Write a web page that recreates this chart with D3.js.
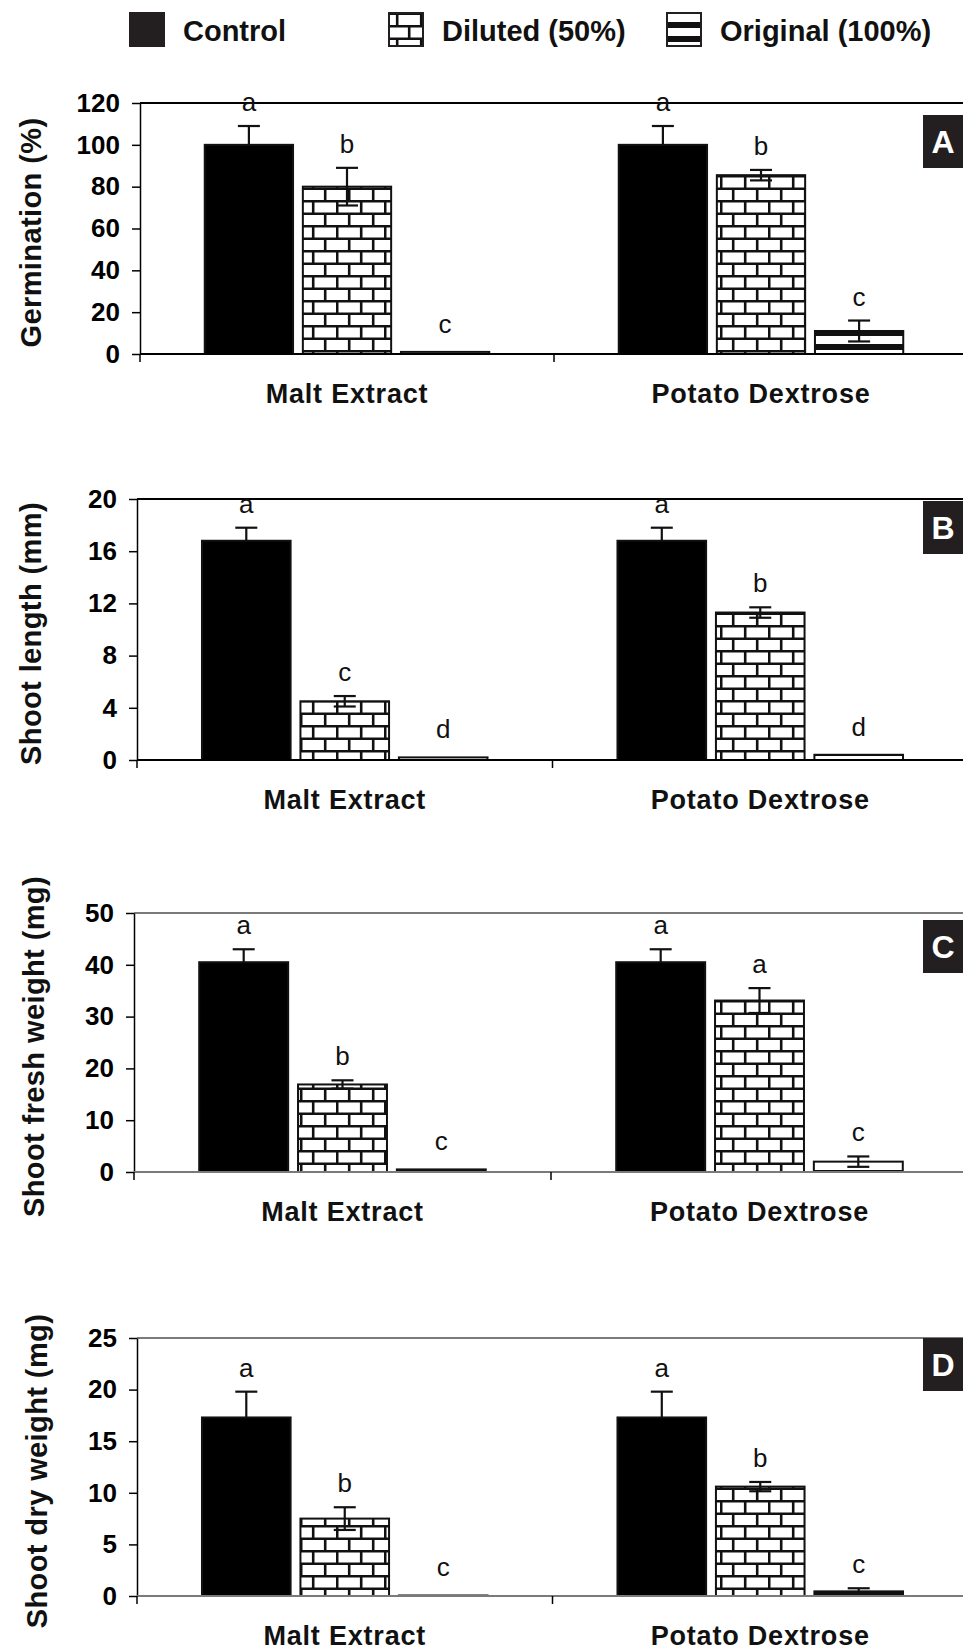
<!DOCTYPE html>
<html>
<head>
<meta charset="utf-8">
<script src="https://cdn.jsdelivr.net/npm/d3@7"></script>
<style>
  body { margin: 0; background: #fff; }
  svg { display: block; font-family: Arial, "Liberation Sans", sans-serif; }
</style>
</head>
<body>
<div id="chart"></div>
<script>
// categories
const groups = ["Malt Extract", "Potato Dextrose"];
const treatments = ["Control", "Diluted (50%)", "Original (100%)"];

// A: germination (%)  -- [group][treatment]
const germMean = [[100, 80, 1], [100, 85.5, 11]];
const germErr = [[9, 9, 0], [9, 2.5, 5]];
const germLetters = [["a", "b", "c"], ["a", "b", "c"]];
const germTicks = [0, 20, 40, 60, 80, 100, 120];

// B: shoot length (mm)
const lenMean = [[16.8, 4.5, 0.2], [16.8, 11.3, 0.4]];
const lenErr = [[1, 0.4, 0], [1, 0.4, 0]];
const lenLetters = [["a", "c", "d"], ["a", "b", "d"]];
const lenTicks = [0, 4, 8, 12, 16, 20];

// C: shoot fresh weight (mg)
const freshMean = [[40.5, 16.9, 0.5], [40.5, 33.1, 2]];
const freshErr = [[2.5, 0.8, 0], [2.5, 2.4, 1]];
const freshLetters = [["a", "b", "c"], ["a", "a", "c"]];
const freshTicks = [0, 10, 20, 30, 40, 50];

// D: shoot dry weight (mg)
const dryMean = [[17.3, 7.5, 0.05], [17.3, 10.6, 0.45]];
const dryErr = [[2.5, 1.1, 0], [2.5, 0.45, 0.3]];
const dryLetters = [["a", "b", "c"], ["a", "b", "c"]];
const dryTicks = [0, 5, 10, 15, 20, 25];

const W = 963, H = 1651, right = 968;

const panels = [
  {tag: "A", title: "Germination (%)", mean: germMean, err: germErr, letters: germLetters, ticks: germTicks,
   top: 103, bottom: 354, left: 140, frame: "#000", tagDy: 12, titleX: 41},
  {tag: "B", title: "Shoot length (mm)", mean: lenMean, err: lenErr, letters: lenLetters, ticks: lenTicks,
   top: 499, bottom: 760, left: 137, frame: "#000", tagDy: 2, titleX: 41},
  {tag: "C", title: "Shoot fresh weight (mg)", mean: freshMean, err: freshErr, letters: freshLetters, ticks: freshTicks,
   top: 913, bottom: 1172, left: 134, frame: "#7a7a7a", tagDy: 7, titleX: 44},
  {tag: "D", title: "Shoot dry weight (mg)", mean: dryMean, err: dryErr, letters: dryLetters, ticks: dryTicks,
   top: 1338, bottom: 1596, left: 137, frame: "#7a7a7a", tagDy: 0, titleX: 47}
];

const svg = d3.select("#chart").append("svg")
  .attr("width", W)
  .attr("height", H);

// fill patterns
const defs = svg.append("defs");
const brick = defs.append("pattern")
  .attr("id", "brick")
  .attr("patternUnits", "userSpaceOnUse")
  .attr("width", 48)
  .attr("height", 25);
brick.append("rect").attr("width", 48).attr("height", 25).attr("fill", "#fff");
const brickLines = [
  [0, 1.2, 48, 1.2], [0, 13.7, 48, 13.7],
  [1.2, 1.2, 1.2, 13.7], [25.2, 1.2, 25.2, 13.7],
  [13.2, 13.7, 13.2, 26.2], [37.2, 13.7, 37.2, 26.2]
];
brick.selectAll("line")
  .data(brickLines)
  .enter()
  .append("line")
  .attr("x1", d => d[0]).attr("y1", d => d[1])
  .attr("x2", d => d[2]).attr("y2", d => d[3])
  .attr("stroke", "#111")
  .attr("stroke-width", 2.6);

const stripes = defs.append("pattern")
  .attr("id", "stripes")
  .attr("patternUnits", "userSpaceOnUse")
  .attr("width", 10)
  .attr("height", 14);
stripes.append("rect").attr("width", 10).attr("height", 14).attr("fill", "#fff");
stripes.append("rect").attr("y", 8).attr("width", 10).attr("height", 6).attr("fill", "#111");

const fills = ["#000", "url(#brick)", "url(#stripes)"];

// legend
const legendX = [129, 388, 666];
const legend = svg.append("g").attr("id", "legend");
legend.selectAll("rect")
  .data(treatments)
  .enter()
  .append("rect")
  .attr("x", (d, i) => legendX[i] + 1)
  .attr("y", 13)
  .attr("width", 34)
  .attr("height", 33)
  .attr("fill", (d, i) => i == 0 ? "#231f20" : fills[i])
  .attr("stroke", "#231f20")
  .attr("stroke-width", 2);
legend.selectAll("text")
  .data(treatments)
  .enter()
  .append("text")
  .attr("x", (d, i) => legendX[i] + 54)
  .attr("y", 41)
  .attr("font-size", 29)
  .attr("font-weight", "bold")
  .attr("fill", "#111")
  .text(d => d);

panels.forEach(p => {
  const g = svg.append("g").attr("class", "panel");

  const y = d3.scaleLinear()
    .domain([0, d3.max(p.ticks)])
    .range([p.bottom, p.top]);

  const x0 = d3.scaleBand()
    .domain(groups)
    .range([p.left, right]);

  const x1 = d3.scaleBand()
    .domain(treatments)
    .range([0, x0.bandwidth()])
    .paddingInner(0.1)
    .paddingOuter(0.66);

  // top frame line
  g.append("line")
    .attr("x1", p.left).attr("x2", right)
    .attr("y1", p.top).attr("y2", p.top)
    .attr("stroke", p.frame)
    .attr("stroke-width", 2);

  // y axis
  const yAxis = d3.axisLeft(y)
    .tickValues(p.ticks)
    .tickSize(8)
    .tickSizeOuter(0)
    .tickPadding(12);
  const ya = g.append("g")
    .attr("transform", "translate(" + p.left + ",0)")
    .call(yAxis);
  ya.select(".domain").attr("stroke", "#000").attr("stroke-width", 1.5);
  ya.selectAll(".tick line").attr("stroke", "#000").attr("stroke-width", 1.5);
  ya.selectAll(".tick text")
    .attr("font-size", 26)
    .attr("font-weight", "bold")
    .attr("font-family", "Arial, 'Liberation Sans', sans-serif")
    .attr("fill", "#000");

  // y title
  g.append("text")
    .attr("transform", "translate(" + p.titleX + "," + ((p.top + p.bottom) / 2 + 4) + ") rotate(-90)")
    .attr("text-anchor", "middle")
    .attr("font-size", 29)
    .attr("font-weight", "bold")
    .attr("letter-spacing", 0.4)
    .attr("fill", "#111")
    .text(p.title);

  // bars
  const rows = [];
  groups.forEach((grp, gi) => {
    treatments.forEach((t, ti) => {
      rows.push({grp: grp, t: t, ti: ti, v: p.mean[gi][ti], e: p.err[gi][ti], l: p.letters[gi][ti]});
    });
  });

  g.selectAll("rect.bar")
    .data(rows)
    .enter()
    .append("rect")
    .attr("class", "bar")
    .attr("x", d => x0(d.grp) + x1(d.t))
    .attr("y", d => y(d.v))
    .attr("width", x1.bandwidth())
    .attr("height", d => p.bottom - y(d.v))
    .attr("fill", d => fills[d.ti])
    .attr("stroke", "#111")
    .attr("stroke-width", 2);

  // error bars (lower half hidden on the solid control bars)
  const cx = d => x0(d.grp) + x1(d.t) + x1.bandwidth() / 2;
  const lo = d => d.ti == 0 ? y(d.v) : y(Math.max(0, d.v - d.e));
  const eb = g.selectAll("g.err")
    .data(rows.filter(d => d.e > 0))
    .enter()
    .append("g")
    .attr("class", "err")
    .attr("stroke", "#111")
    .attr("stroke-width", 2.2);
  eb.append("line")
    .attr("x1", cx).attr("x2", cx)
    .attr("y1", d => y(d.v + d.e))
    .attr("y2", lo);
  eb.append("line")
    .attr("x1", d => cx(d) - 11).attr("x2", d => cx(d) + 11)
    .attr("y1", d => y(d.v + d.e)).attr("y2", d => y(d.v + d.e));
  eb.filter(d => d.ti != 0).append("line")
    .attr("x1", d => cx(d) - 11).attr("x2", d => cx(d) + 11)
    .attr("y1", lo).attr("y2", lo);

  // significance letters
  g.selectAll("text.sig")
    .data(rows)
    .enter()
    .append("text")
    .attr("class", "sig")
    .attr("x", cx)
    .attr("y", d => y(d.v + d.e) - (d.e > 0 ? 15 : 19))
    .attr("text-anchor", "middle")
    .attr("font-size", 26)
    .attr("fill", "#111")
    .text(d => d.l);

  // x axis
  g.append("line")
    .attr("x1", p.left).attr("x2", right)
    .attr("y1", p.bottom).attr("y2", p.bottom)
    .attr("stroke", p.frame)
    .attr("stroke-width", 2);
  const bounds = groups.map(d => x0(d)).concat([x0.range()[1]]);
  g.selectAll("line.xtick")
    .data(bounds)
    .enter()
    .append("line")
    .attr("class", "xtick")
    .attr("x1", d => d).attr("x2", d => d)
    .attr("y1", p.bottom).attr("y2", p.bottom + 8)
    .attr("stroke", "#000")
    .attr("stroke-width", 1.5);
  g.selectAll("text.cat")
    .data(groups)
    .enter()
    .append("text")
    .attr("class", "cat")
    .attr("x", d => x0(d) + x0.bandwidth() / 2)
    .attr("y", p.bottom + 49)
    .attr("text-anchor", "middle")
    .attr("font-size", 27)
    .attr("font-weight", "bold")
    .attr("letter-spacing", 0.8)
    .attr("fill", "#111")
    .text(d => d);

  // panel tag
  g.append("rect")
    .attr("x", 923)
    .attr("y", p.top + p.tagDy)
    .attr("width", 44)
    .attr("height", 53)
    .attr("fill", "#231f20");
  g.append("text")
    .attr("x", 943)
    .attr("y", p.top + p.tagDy + 38)
    .attr("text-anchor", "middle")
    .attr("font-size", 32)
    .attr("font-weight", "bold")
    .attr("fill", "#fff")
    .text(p.tag);
});
</script>
</body>
</html>
